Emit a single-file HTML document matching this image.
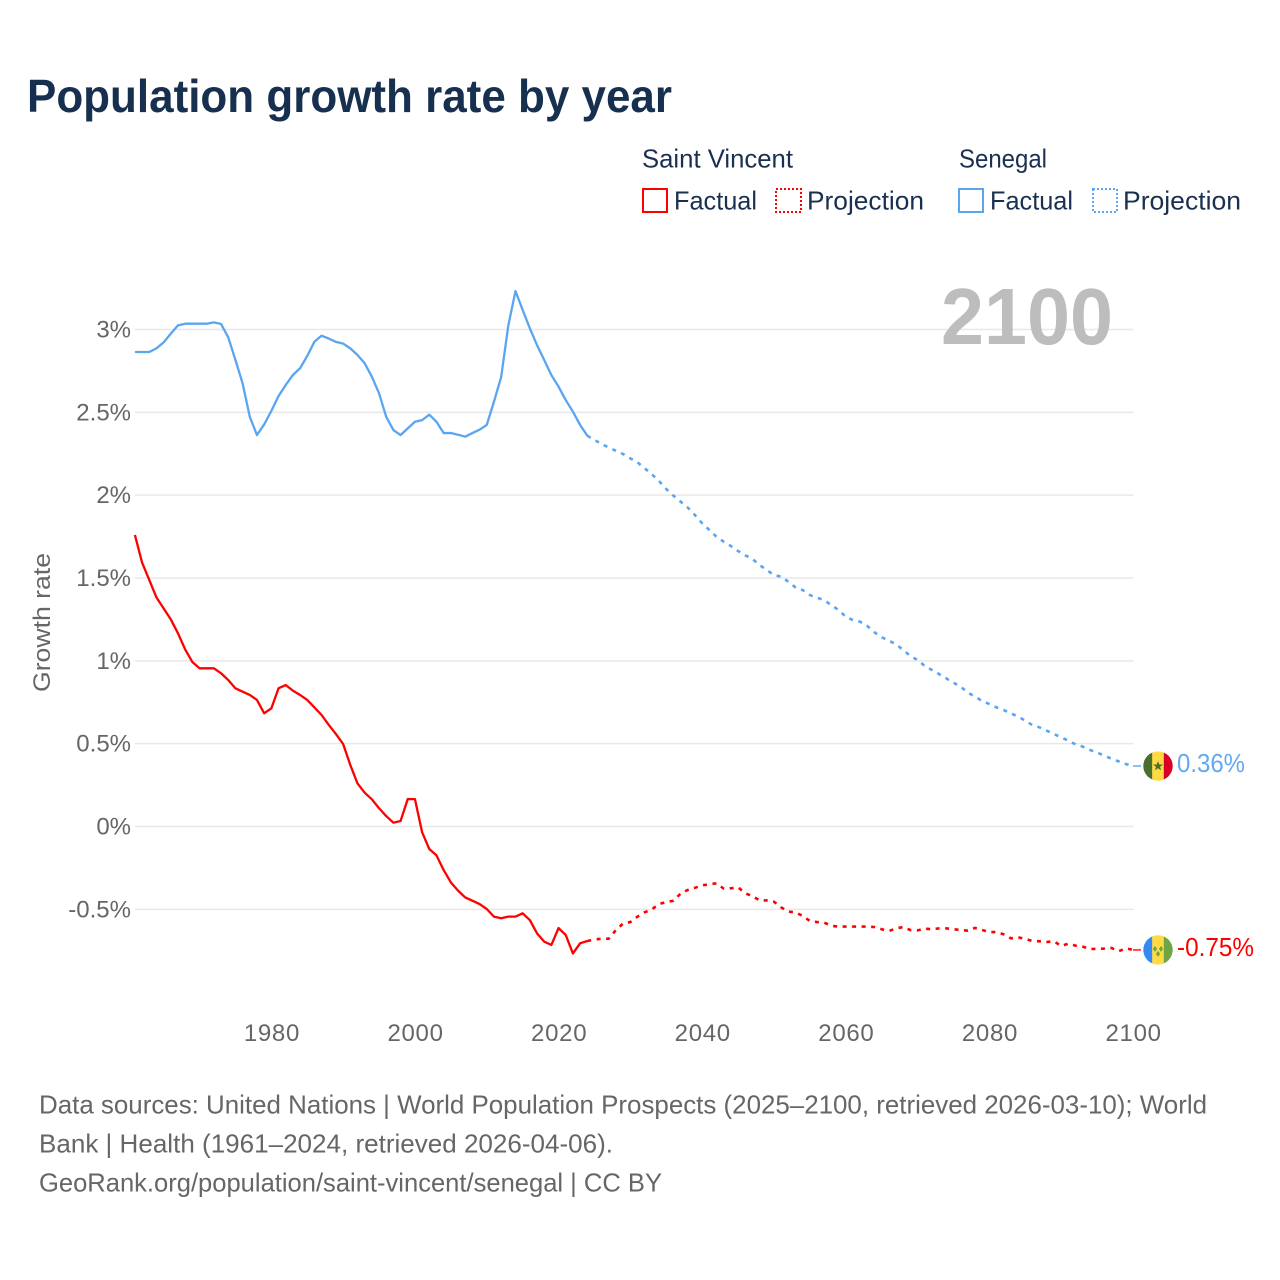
<!DOCTYPE html>
<html lang="en">
<head>
<meta charset="utf-8">
<title>Population growth rate by year</title>
<style>
html,body{margin:0;padding:0;background:#fff;}
svg{display:block;font-family:"Liberation Sans",sans-serif;}
</style>
</head>
<body>
<svg id="chart" xmlns="http://www.w3.org/2000/svg" width="1280" height="1280" viewBox="0 0 1280 1280">
  <defs>
    <clipPath id="flag-clip-a"><circle cx="0" cy="0" r="14.7"/></clipPath>
    <clipPath id="flag-clip-b"><circle cx="0" cy="0" r="14.7"/></clipPath>
  </defs>
  <rect x="0" y="0" width="1280" height="1280" fill="#fff"/>
  <text x="27" y="112" font-size="46" font-weight="700" fill="#17304f" textLength="645" lengthAdjust="spacingAndGlyphs">Population growth rate by year</text>

  <g font-size="26" fill="#1a3050">
    <text x="642" y="167.5" textLength="151" lengthAdjust="spacingAndGlyphs">Saint Vincent</text>
    <text x="959" y="167.5" textLength="88" lengthAdjust="spacingAndGlyphs">Senegal</text>
    <g>
      <rect x="643" y="189" width="24" height="23" fill="none" stroke="#ff0000" stroke-width="2"/>
      <text x="674" y="209.5" textLength="83" lengthAdjust="spacingAndGlyphs">Factual</text>
    </g>
    <g>
      <rect x="776" y="189" width="25" height="23" fill="none" stroke="#ff0000" stroke-width="2" stroke-dasharray="2 2"/>
      <text x="807" y="209.5" textLength="117" lengthAdjust="spacingAndGlyphs">Projection</text>
    </g>
    <g>
      <rect x="959" y="189" width="24" height="23" fill="none" stroke="#5aa5f0" stroke-width="2"/>
      <text x="990" y="209.5" textLength="83" lengthAdjust="spacingAndGlyphs">Factual</text>
    </g>
    <g>
      <rect x="1093" y="189" width="24" height="23" fill="none" stroke="#5aa5f0" stroke-width="2" stroke-dasharray="2 2"/>
      <text x="1123" y="209.5" textLength="118" lengthAdjust="spacingAndGlyphs">Projection</text>
    </g>
  </g>

  <g id="grid"></g>
  <g id="y-ticks" font-size="24" fill="#666" text-anchor="end"></g>
  <g id="x-ticks" font-size="24" fill="#666" text-anchor="middle"></g>
  <text transform="translate(50,692) rotate(-90)" font-size="24" fill="#666" textLength="139" lengthAdjust="spacingAndGlyphs">Growth rate</text>
  <text x="941" y="344" font-size="80" font-weight="700" fill="#bdbdbd" textLength="172" lengthAdjust="spacingAndGlyphs">2100</text>

  <g id="series"></g>

  <g id="flag-senegal">
    <g clip-path="url(#flag-clip-a)">
      <rect x="-15" y="-15" width="9.4" height="30" fill="#496e2d"/>
      <rect x="-5.8" y="-15" width="11.8" height="30" fill="#ffda44"/>
      <rect x="5.8" y="-15" width="9.4" height="30" fill="#d80027"/>
      <polygon points="0,-5 1.3,-1.5 5,-1.5 2,0.8 3.1,4.4 0,2.2 -3.1,4.4 -2,0.8 -5,-1.5 -1.3,-1.5" fill="#496e2d"/>
    </g>
  </g>
  <g id="flag-saint-vincent">
    <g clip-path="url(#flag-clip-b)">
      <rect x="-15" y="-15" width="9.4" height="30" fill="#338af3"/>
      <rect x="-5.8" y="-15" width="11.8" height="30" fill="#ffda44"/>
      <rect x="5.8" y="-15" width="9.4" height="30" fill="#6da544"/>
      <polygon points="-3,-4 -0.9,-1 -3,2 -5.1,-1" fill="#6da544"/>
      <polygon points="3,-4 5.1,-1 3,2 0.9,-1" fill="#6da544"/>
      <polygon points="0,1 2.1,4 0,7 -2.1,4" fill="#6da544"/>
    </g>
  </g>
  <text id="label-senegal" x="1177" font-size="26" fill="#62a9f1" textLength="68" lengthAdjust="spacingAndGlyphs"></text>
  <text id="label-saint-vincent" x="1177" font-size="26" fill="#ff0000" textLength="77" lengthAdjust="spacingAndGlyphs"></text>

  <g font-size="26" fill="#666">
    <text x="39" y="1113.5" textLength="1168" lengthAdjust="spacingAndGlyphs">Data sources: United Nations | World Population Prospects (2025–2100, retrieved 2026-03-10); World</text>
    <text x="39" y="1152.5" textLength="574" lengthAdjust="spacingAndGlyphs">Bank | Health (1961–2024, retrieved 2026-04-06).</text>
    <text x="39" y="1191.5" textLength="623" lengthAdjust="spacingAndGlyphs">GeoRank.org/population/saint-vincent/senegal | CC BY</text>
  </g>
</svg>
<script>
const factualYears = [1961,1962,1963,1964,1965,1966,1967,1968,1969,1970,
  1971,1972,1973,1974,1975,1976,1977,1978,1979,1980,
  1981,1982,1983,1984,1985,1986,1987,1988,1989,1990,
  1991,1992,1993,1994,1995,1996,1997,1998,1999,2000,
  2001,2002,2003,2004,2005,2006,2007,2008,2009,2010,
  2011,2012,2013,2014,2015,2016,2017,2018,2019,2020,
  2021,2022,2023,2024];
const projectionYears = [2024,2025,2026,2027,2028,2029,2030,
  2031,2032,2033,2034,2035,2036,2037,2038,2039,2040,
  2041,2042,2043,2044,2045,2046,2047,2048,2049,2050,
  2051,2052,2053,2054,2055,2056,2057,2058,2059,2060,
  2061,2062,2063,2064,2065,2066,2067,2068,2069,2070,
  2071,2072,2073,2074,2075,2076,2077,2078,2079,2080,
  2081,2082,2083,2084,2085,2086,2087,2088,2089,2090,
  2091,2092,2093,2094,2095,2096,2097,2098,2099,2100];
const senegalFactual = [2.864,2.864,2.864,2.886,2.922,2.975,3.025,3.035,3.035,3.035,
  3.035,3.043,3.033,2.953,2.816,2.675,2.473,2.363,2.427,2.508,
  2.598,2.665,2.725,2.766,2.84,2.926,2.963,2.945,2.925,2.915,
  2.886,2.846,2.796,2.715,2.615,2.473,2.393,2.363,2.403,2.443,
  2.453,2.486,2.443,2.375,2.375,2.365,2.353,2.375,2.395,2.424,
  2.564,2.711,3.023,3.232,3.118,3.007,2.906,2.816,2.725,2.655,
  2.574,2.504,2.424,2.359];
const senegalProjection = [2.359,2.333,2.309,2.287,2.268,2.248,2.222,
  2.198,2.162,2.126,2.085,2.037,1.997,1.961,1.925,1.88,1.83,
  1.79,1.749,1.719,1.693,1.663,1.637,1.615,1.578,1.548,1.518,
  1.508,1.478,1.443,1.427,1.397,1.381,1.367,1.335,1.307,1.266,
  1.246,1.236,1.21,1.172,1.142,1.122,1.1,1.065,1.029,1.005,
  0.969,0.945,0.92,0.894,0.868,0.844,0.808,0.784,0.757,0.739,
  0.719,0.703,0.683,0.663,0.639,0.612,0.598,0.578,0.558,0.538,
  0.518,0.496,0.482,0.462,0.446,0.428,0.409,0.393,0.377,0.365];
const saintVincentFactual = [1.76,1.593,1.488,1.383,1.317,1.25,1.166,1.069,0.993,0.955,
  0.955,0.955,0.925,0.884,0.834,0.814,0.794,0.764,0.683,0.713,
  0.834,0.854,0.82,0.794,0.764,0.719,0.673,0.613,0.558,0.498,
  0.371,0.26,0.204,0.164,0.11,0.063,0.023,0.033,0.166,0.165,
  -0.035,-0.136,-0.174,-0.263,-0.337,-0.387,-0.428,-0.448,-0.468,-0.498,
  -0.544,-0.554,-0.544,-0.544,-0.524,-0.565,-0.645,-0.695,-0.715,-0.613,
  -0.655,-0.766,-0.705,-0.691];
const saintVincentProjection = [-0.691,-0.683,-0.677,-0.677,-0.625,-0.585,-0.577,
  -0.544,-0.518,-0.5,-0.468,-0.456,-0.448,-0.405,-0.383,-0.37,-0.355,
  -0.349,-0.343,-0.375,-0.373,-0.367,-0.403,-0.42,-0.446,-0.446,-0.454,
  -0.488,-0.514,-0.518,-0.54,-0.57,-0.577,-0.58,-0.6,-0.604,-0.604,
  -0.604,-0.604,-0.604,-0.607,-0.62,-0.631,-0.615,-0.607,-0.625,-0.627,
  -0.617,-0.62,-0.615,-0.615,-0.62,-0.625,-0.629,-0.612,-0.625,-0.637,
  -0.637,-0.651,-0.675,-0.669,-0.679,-0.691,-0.693,-0.697,-0.693,-0.721,
  -0.707,-0.719,-0.725,-0.739,-0.739,-0.737,-0.733,-0.753,-0.735,-0.745];
const yTickValues = [-0.5,0,0.5,1,1.5,2,2.5,3];
const yTickLabels = ["-0.5%","0%","0.5%","1%","1.5%","2%","2.5%","3%"];
const xTickValues = [1980,2000,2020,2040,2060,2080,2100];
const xTickLabels = ["1980","2000","2020","2040","2060","2080","2100"];
const endLabelSenegal = "0.36%";
const endLabelSaintVincent = "-0.75%";

const NS = "http://www.w3.org/2000/svg";
function xScale(year){ return 134.9 + (year - 1961) * (1133 - 134.9) / (2100 - 1961); }
function yScale(val){ return 826.5 - val * (826.5 - 329.5) / 3; }
function pathFrom(years, values){
  return years.map(function(y, i){
    return (i ? "L" : "M") + xScale(y).toFixed(2) + " " + yScale(values[i]).toFixed(2);
  }).join("");
}
const gridG = document.getElementById("grid");
const yG = document.getElementById("y-ticks");
const xG = document.getElementById("x-ticks");
const seriesG = document.getElementById("series");

yTickValues.forEach(function(v, i){
  const line = document.createElementNS(NS, "line");
  
  
  line.setAttribute("x1", xScale(1961));
  line.setAttribute("x2", xScale(2100) + 0.5);
  line.setAttribute("y1", yScale(v));
  line.setAttribute("y2", yScale(v));
  line.setAttribute("stroke", "#e8e8e8");
  line.setAttribute("stroke-width", "1.5");
  gridG.appendChild(line);
  const t = document.createElementNS(NS, "text");
  
  
  t.setAttribute("x", 131);
  t.setAttribute("y", yScale(v) + 8);
  t.textContent = yTickLabels[i];
  yG.appendChild(t);
});
xTickValues.forEach(function(v, i){
  const t = document.createElementNS(NS, "text");
  
  
  t.setAttribute("x", xScale(v) + 0.6);
  t.setAttribute("y", 1041);
  t.setAttribute("letter-spacing", "0.7");
  t.textContent = xTickLabels[i];
  xG.appendChild(t);
});

function addSeries(name, years, values, color, dashed){
  const p = document.createElementNS(NS, "path");
  
  
  p.setAttribute("d", pathFrom(years, values));
  p.setAttribute("fill", "none");
  p.setAttribute("stroke", color);
  p.setAttribute("stroke-width", dashed ? "2.6" : "2.3");
  p.setAttribute("stroke-linejoin", "round");
  if (dashed) p.setAttribute("stroke-dasharray", "4 5.5");
  seriesG.appendChild(p);
}
addSeries("senegal-factual-line", factualYears, senegalFactual, "#5aa5f0", false);
addSeries("senegal-projection-line", projectionYears, senegalProjection, "#5aa5f0", true);
addSeries("saint-vincent-factual-line", factualYears, saintVincentFactual, "#ff0000", false);
addSeries("saint-vincent-projection-line", projectionYears, saintVincentProjection, "#ff0000", true);

function addEnd(name, values, color, flagId, labelId, labelText){
  const last = values[values.length - 1];
  const y = yScale(last);
  const l = document.createElementNS(NS, "line");
  
  
  l.setAttribute("x1", xScale(2100));
  l.setAttribute("x2", xScale(2100) + 8);
  l.setAttribute("y1", y);
  l.setAttribute("y2", y);
  l.setAttribute("stroke", color);
  l.setAttribute("stroke-width", "2");
  l.setAttribute("opacity", "0.7");
  seriesG.appendChild(l);
  document.getElementById(flagId).setAttribute("transform", "translate(1158," + y.toFixed(2) + ")");
  const t = document.getElementById(labelId);
  t.setAttribute("y", (y + 6).toFixed(2));
  t.textContent = labelText;
}
addEnd("senegal-end-leader", senegalProjection, "#5aa5f0", "flag-senegal", "label-senegal", endLabelSenegal);
addEnd("saint-vincent-end-leader", saintVincentProjection, "#ff0000", "flag-saint-vincent", "label-saint-vincent", endLabelSaintVincent);
</script>
</body>
</html>
